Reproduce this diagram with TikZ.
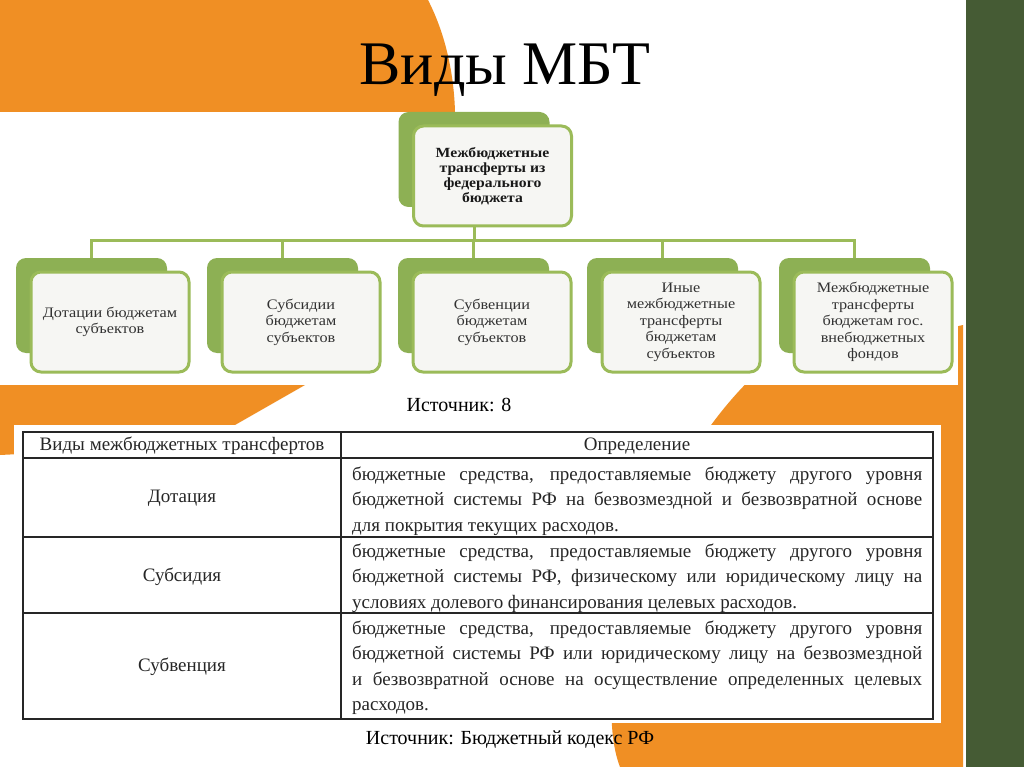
\documentclass[tikz,border=0pt]{standalone}
\usepackage{fontspec}
\setmainfont{Liberation Serif}
\newfontfamily\boxfont[FakeStretch=1.12]{Liberation Serif}
\definecolor{orangeColor}{RGB}{240, 143, 36}
\definecolor{forestColor}{RGB}{69, 91, 52}
\definecolor{leafColor}{RGB}{155, 187, 89}
\definecolor{shadeColor}{RGB}{141, 176, 84}
\definecolor{paperColor}{RGB}{246, 246, 243}
\definecolor{inkColor}{RGB}{50, 50, 50}
\usepackage{xcolor}
\usepackage{tikz}
\tolerance=9999
\hbadness=10000

\begin{document}
\begin{tikzpicture}[
    x=1pt, y=-1pt,
    frontbox/.style={rounded corners=10pt, draw=leafColor, line width=3pt, fill=paperColor, minimum width=158pt, minimum height=100pt, inner sep=2pt, align=center, text=inkColor, font=\boxfont\fontsize{14.5}{16.5}\selectfont},
    backbox/.style={rounded corners=10pt, fill=shadeColor, minimum width=151pt, minimum height=95pt},
    link/.style={leafColor, line width=3pt},
    cell/.style={font=\fontsize{19}{25.5}\selectfont, text=black!85, inner sep=0pt},
    defcell/.style={cell, text width=570pt, align=justify, anchor=base west},
    tablerule/.style={line width=1.5pt, black!85}
]
    % slide background
    \fill[white] (0,0) rectangle (1024,767);
    \useasboundingbox (0,0) rectangle (1024,767);
    \fill[orangeColor] (0,0) -- (428,0) .. controls (446,35) and (454,75) .. (455,112) -- (0,112) -- cycle;
    \fill[orangeColor] (0,385) -- (305,385) -- (200,445) -- (0,455) -- cycle;
    \fill[orangeColor] (963,325) -- (963,767) -- (620,767) .. controls (590,690) and (640,480) .. (760,370) -- cycle;
    \fill[forestColor] (966,0) rectangle (1024,767);
    \fill[white] (15,112) rectangle (958,385);
    \fill[white] (14,425) rectangle (941,723);

    \node[font=\fontsize{62}{62}\selectfont, anchor=base] (title) at (505,85) {Виды МБТ};

    % diagram
    \node[backbox] (rootBack) at (474,159.5) {};
    \node[backbox] (dotBack) at (91.5,305.5) {};
    \node[backbox] (subsBack) at (282.5,305.5) {};
    \node[backbox] (subvBack) at (473.5,305.5) {};
    \node[backbox] (otherBack) at (662.5,305.5) {};
    \node[backbox] (fundsBack) at (854.5,305.5) {};

    \coordinate (bus) at (0,240);
    \draw[link] (rootBack.south) -- (rootBack.south |- bus) -| (dotBack.north);
    \draw[link] (rootBack.south) -- (rootBack.south |- bus) -| (subsBack.north);
    \draw[link] (rootBack.south) -- (rootBack.south |- bus) -| (subvBack.north);
    \draw[link] (rootBack.south) -- (rootBack.south |- bus) -| (otherBack.north);
    \draw[link] (rootBack.south) -- (rootBack.south |- bus) -| (fundsBack.north);

    \node[frontbox, text=black!90, font=\boxfont\bfseries\fontsize{14}{15}\selectfont] (root) at (492.5,176) {Межбюджетные\\трансферты из\\федерального\\бюджета};
    \node[frontbox] (dot) at (110,322) {Дотации бюджетам\\субъектов};
    \node[frontbox] (subs) at (301,322) {Субсидии\\бюджетам\\субъектов};
    \node[frontbox] (subv) at (492,322) {Субвенции\\бюджетам\\субъектов};
    \node[frontbox] (other) at (681,322) {Иные\\межбюджетные\\трансферты\\бюджетам\\субъектов};
    \node[frontbox] (funds) at (873,322) {Межбюджетные\\трансферты\\бюджетам гос.\\внебюджетных\\фондов};

    \node[font=\fontsize{20}{20}\selectfont] (diagramSource) at (459,405) {Источник: 8};

    % table
    \draw[tablerule] (23,432) rectangle (933,719);
    \draw[tablerule] (341,432) -- (341,719);
    \draw[tablerule] (23,458) -- (933,458);
    \draw[tablerule] (23,537) -- (933,537);
    \draw[tablerule] (23,613) -- (933,613);

    \node[cell] (kindHead) at (182,446) {Виды межбюджетных трансфертов};
    \node[cell] (defHead) at (637,446) {Определение};
    \node[cell] (dotKind) at (182,498) {Дотация};
    \node[cell] (subsKind) at (182,577) {Субсидия};
    \node[cell] (subvKind) at (182,667) {Субвенция};
    \node[defcell] (dotDef) at (352,480) {бюджетные средства, предоставляемые бюджету другого уровня\linebreak бюджетной системы РФ на безвозмездной и безвозвратной основе\linebreak для покрытия текущих расходов.};
    \node[defcell] (subsDef) at (352,557) {бюджетные средства, предоставляемые бюджету другого уровня\linebreak бюджетной системы РФ, физическому или юридическому лицу на\linebreak условиях долевого финансирования целевых расходов.};
    \node[defcell] (subvDef) at (352,634) {бюджетные средства, предоставляемые бюджету другого уровня\linebreak бюджетной системы РФ или юридическому лицу на безвозмездной\linebreak и безвозвратной основе на осуществление определенных целевых\linebreak расходов.};

    \node[font=\fontsize{20}{20}\selectfont] (codeSource) at (510,740) {Источник: Бюджетный кодекс РФ};
\end{tikzpicture}
\end{document}
